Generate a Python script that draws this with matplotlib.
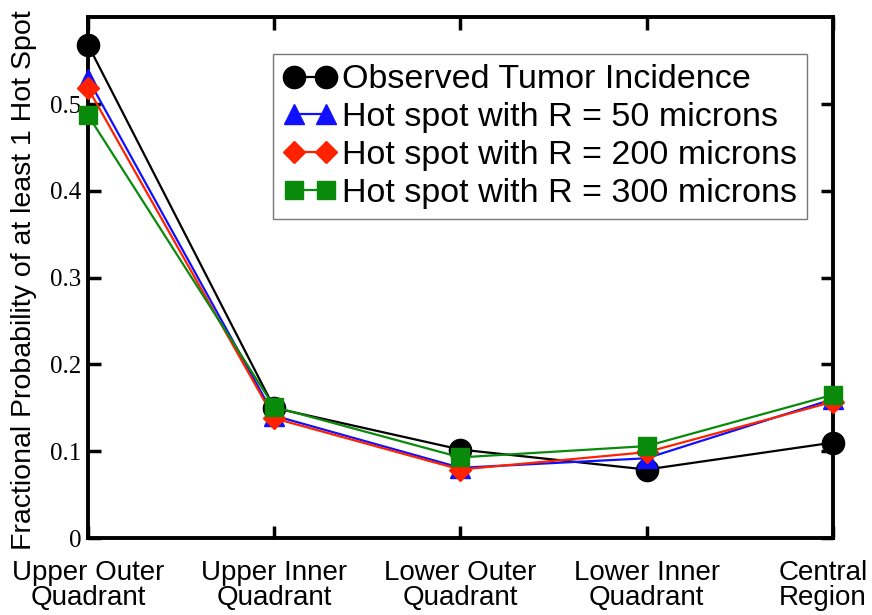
import matplotlib
matplotlib.use("Agg")
import matplotlib.pyplot as plt
from matplotlib.transforms import ScaledTranslation

categories = ["Upper Outer\nQuadrant", "Upper Inner\nQuadrant", "Lower Outer\nQuadrant",
              "Lower Inner\nQuadrant", "Central\nRegion"]
observed = [0.568, 0.150, 0.102, 0.079, 0.110]
r50 = [0.529, 0.141, 0.081, 0.092, 0.160]
r200 = [0.518, 0.138, 0.079, 0.099, 0.157]
r300 = [0.487, 0.151, 0.093, 0.106, 0.165]
y_ticks = [0, 0.1, 0.2, 0.3, 0.4, 0.5]
y_tick_labels = ["0", "0.1", "0.2", "0.3", "0.4", "0.5"]

series = [
    ("Observed Tumor Incidence", observed, "black", "o", 16),
    ("Hot spot with R = 50 microns", r50, "#1010ff", "^", 14),
    ("Hot spot with R = 200 microns", r200, "#ff2200", "D", 11),
    ("Hot spot with R = 300 microns", r300, "#0a8a0a", "s", 13),
]

plt.rcParams["font.family"] = ["Liberation Sans", "DejaVu Sans"]

fig = plt.figure(figsize=(8.72, 6.15), dpi=100)
ax = fig.add_axes([0.101, 0.125, 0.854, 0.847])

x = list(range(len(categories)))
for label, vals, color, marker, ms in series:
    ax.plot(x, vals, color=color, marker=marker, markersize=ms, linewidth=1.6,
            label=label, clip_on=False, zorder=3)

ax.set_xlim(0, len(categories) - 1)
ax.set_ylim(0, 0.6)
ax.set_xticks(x)
ax.set_xticklabels(categories, fontsize=20, linespacing=0.95)
ax.set_yticks(y_ticks)
ax.set_yticklabels(y_tick_labels, family="Liberation Serif", fontsize=18)
ax.set_ylabel("Fractional Probability of at least 1 Hot Spot", fontsize=20.5)
ax.yaxis.set_label_coords(-0.068, 0.495)

ax.tick_params(direction="in", length=9, width=2.5, top=True, right=True)
ax.tick_params(axis="x", pad=16)
ax.tick_params(axis="y", pad=5)
for sp in ax.spines.values():
    sp.set_linewidth(2.8)

# last label sits a bit left of its tick so it stays inside the figure
last = ax.get_xticklabels()[-1]
last.set_transform(last.get_transform() + ScaledTranslation(-10 / 100, 0, fig.dpi_scale_trans))

leg = ax.legend(loc="upper right", bbox_to_anchor=(0.966, 0.929), fontsize=24.5,
                numpoints=2, handlelength=1.55, handletextpad=0.18, borderpad=0.3,
                labelspacing=0.2, fancybox=False, edgecolor="#555555", borderaxespad=0)
leg.get_frame().set_linewidth(1.0)

fig.savefig("out.png", dpi=100)
